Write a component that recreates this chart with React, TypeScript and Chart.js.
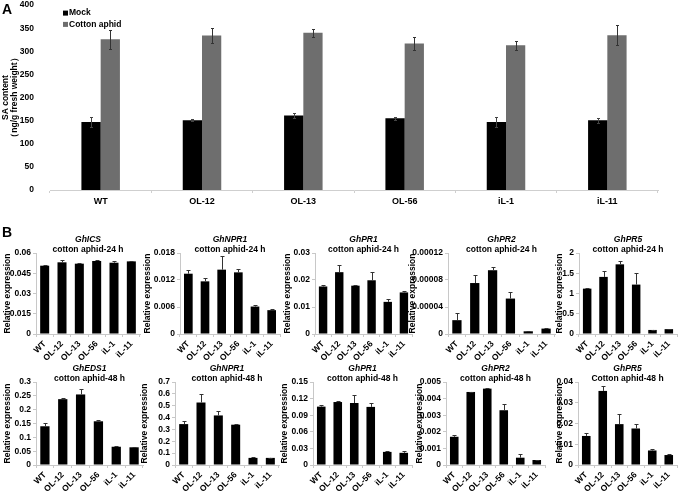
import React, { useEffect, useRef } from "react";
import { Chart, registerables } from "chart.js";

Chart.register(...registerables);

const FONT = "'Liberation Sans', Arial, Helvetica, sans-serif";
Chart.defaults.font.family = FONT;
Chart.defaults.color = "#000";

// ---------- Panel A data ----------
const lines = ["WT", "OL-12", "OL-13", "OL-56", "iL-1", "iL-11"];
const saMock = [147, 151, 161, 155, 147, 151];
const saMockErr = [10, 2, 6, 4, 10, 5];
const saAphid = [326, 334, 340, 317, 313, 335];
const saAphidErr = [20, 16, 9, 14, 10, 22];
const saTicks = [0, 50, 100, 150, 200, 250, 300, 350, 400];
const saTitle = ["SA content", "（ng/g fresh weight）"];
const seriesNames = ["Mock", "Cotton aphid"];

// ---------- Panel B data ----------
const icsVals = [0.0506, 0.0531, 0.0521, 0.0541, 0.0528, 0.0538];
const icsErr = [0.0003, 0.002, 0.0007, 0.001, 0.0015, 0.0005];
const icsTicks = [0, 0.015, 0.03, 0.045, 0.06];

const npr1h24Vals = [0.0134, 0.0117, 0.0143, 0.0137, 0.0061, 0.0053];
const npr1h24Err = [0.0008, 0.0007, 0.003, 0.0007, 0.0003, 0.0002];
const npr1h24Ticks = [0, 0.006, 0.012, 0.018];

const pr1h24Vals = [0.0176, 0.0229, 0.0179, 0.0199, 0.0119, 0.0154];
const pr1h24Err = [0.0004, 0.0025, 0.0004, 0.003, 0.001, 0.0004];
const pr1h24Ticks = [0, 0.01, 0.02, 0.03];

const pr2h24Vals = [0.0000205, 0.0000755, 0.0000945, 0.0000525, 0.000004, 0.000008];
const pr2h24Err = [0.00001, 0.000012, 0.0000045, 0.00001, 0.0000005, 0.0000007];
const pr2h24Ticks = [0, 0.00004, 0.00008, 0.00012];

const pr5h24Vals = [1.12, 1.41, 1.72, 1.22, 0.1, 0.12];
const pr5h24Err = [0.02, 0.14, 0.08, 0.28, 0.01, 0.005];
const pr5h24Ticks = [0, 0.5, 1, 1.5, 2];

const eds1h48Vals = [0.14, 0.238, 0.255, 0.158, 0.066, 0.064];
const eds1h48Err = [0.012, 0.004, 0.02, 0.004, 0.002, 0.002];
const eds1h48Ticks = [0, 0.05, 0.1, 0.15, 0.2, 0.25, 0.3];

const npr1h48Vals = [0.345, 0.527, 0.418, 0.34, 0.06, 0.06];
const npr1h48Err = [0.022, 0.075, 0.035, 0.003, 0.005, 0.003];
const npr1h48Ticks = [0, 0.1, 0.2, 0.3, 0.4, 0.5, 0.6, 0.7];

const pr1h48Vals = [0.1055, 0.1138, 0.112, 0.105, 0.0237, 0.022];
const pr1h48Err = [0.0025, 0.0018, 0.0137, 0.0065, 0.0013, 0.003];
const pr1h48Ticks = [0, 0.03, 0.06, 0.09, 0.12, 0.15];

const pr2h48Vals = [0.0017, 0.0044, 0.0046, 0.0033, 0.00044, 0.0003];
const pr2h48Err = [0.00012, 0.00002, 0.00002, 0.00036, 0.0002, 0.00002];
const pr2h48Ticks = [0, 0.001, 0.002, 0.003, 0.004, 0.005];

const pr5h48Vals = [0.014, 0.0357, 0.0197, 0.0176, 0.007, 0.0048];
const pr5h48Err = [0.0012, 0.0022, 0.0048, 0.002, 0.0007, 0.0004];
const pr5h48Ticks = [0, 0.01, 0.02, 0.03, 0.04];

const genes = ["GhICS", "GhNPR1", "GhPR1", "GhPR2", "GhPR5", "GhEDS1", "GhNPR1", "GhPR1", "GhPR2", "GhPR5"];
const subtitles = [
  "cotton aphid-24 h", "cotton aphid-24 h", "cotton aphid-24 h", "cotton aphid-24 h", "cotton aphid-24 h",
  "cotton aphid-48 h", "cotton aphid-48 h", "cotton aphid-48 h", "cotton aphid-48 h", "Cotton aphid-48 h",
];
const yTitleB = "Relative expression";

const valuesB = [icsVals, npr1h24Vals, pr1h24Vals, pr2h24Vals, pr5h24Vals, eds1h48Vals, npr1h48Vals, pr1h48Vals, pr2h48Vals, pr5h48Vals];
const errorsB = [icsErr, npr1h24Err, pr1h24Err, pr2h24Err, pr5h24Err, eds1h48Err, npr1h48Err, pr1h48Err, pr2h48Err, pr5h48Err];
const ticksB = [icsTicks, npr1h24Ticks, pr1h24Ticks, pr2h24Ticks, pr5h24Ticks, eds1h48Ticks, npr1h48Ticks, pr1h48Ticks, pr2h48Ticks, pr5h48Ticks];

// ---------- Layout (positions only) ----------
const ROW1 = { top: 234, padTop: 19, plotH: 81, xH: 30 };
const ROW2 = { top: 364, padTop: 18, plotH: 83, xH: 28 };
const layoutB = [
  { left: 3, plotLeft: 36, plotRight: 140, row: ROW1 },
  { left: 143, plotLeft: 180, plotRight: 280, row: ROW1 },
  { left: 283, plotLeft: 315, plotRight: 412, row: ROW1 },
  { left: 408, plotLeft: 448, plotRight: 555, row: ROW1 },
  { left: 555, plotLeft: 579, plotRight: 677, row: ROW1 },
  { left: 3, plotLeft: 36, plotRight: 143, row: ROW2 },
  { left: 140, plotLeft: 175, plotRight: 279, row: ROW2 },
  { left: 280, plotLeft: 313, plotRight: 412, row: ROW2 },
  { left: 415, plotLeft: 446, plotRight: 545, row: ROW2 },
  { left: 555, plotLeft: 578, plotRight: 677, row: ROW2 },
];

// ---------- Plugins ----------
const errorBarPlugin = {
  id: "errorBars",
  afterDatasetsDraw(chart: any) {
    const { ctx } = chart;
    const y = chart.scales.y;
    chart.data.datasets.forEach((ds: any, di: number) => {
      const errs = ds.errors;
      if (!errs) return;
      const meta = chart.getDatasetMeta(di);
      ctx.save();
      ctx.strokeStyle = ds.errorColor || "#333";
      ctx.lineWidth = 1;
      meta.data.forEach((bar: any, i: number) => {
        const v = ds.data[i];
        const e = errs[i];
        const x = Math.round(bar.x) + 0.5;
        const top = Math.round(y.getPixelForValue(v + e)) + 0.5;
        const bot = ds.errorBoth ? Math.round(y.getPixelForValue(v - e)) + 0.5 : y.getPixelForValue(v);
        const cw = ds.capWidth || 2;
        ctx.beginPath();
        ctx.moveTo(x, bot);
        ctx.lineTo(x, top);
        ctx.moveTo(x - cw, top);
        ctx.lineTo(x + cw, top);
        if (ds.errorBoth) {
          ctx.moveTo(x - cw, bot);
          ctx.lineTo(x + cw, bot);
        }
        ctx.stroke();
      });
      ctx.restore();
    });
  },
};

const miniTitlePlugin = {
  id: "miniTitle",
  afterDraw(chart: any, _args: any, opts: any) {
    if (!opts || !opts.lines) return;
    const { ctx, chartArea } = chart;
    const cx = (chartArea.left + chartArea.right) / 2;
    ctx.save();
    ctx.fillStyle = "#000";
    ctx.textAlign = "center";
    ctx.textBaseline = "middle";
    ctx.font = `italic bold 8.5px ${FONT}`;
    ctx.fillText(opts.lines[0], cx, chartArea.top - 13);
    ctx.font = `bold 8.5px ${FONT}`;
    ctx.fillText(opts.lines[1], cx, chartArea.top - 3);
    ctx.restore();
  },
};

const legendPlugin = {
  id: "boxLegend",
  afterDraw(chart: any, _args: any, opts: any) {
    if (!opts || !opts.show) return;
    const { ctx, chartArea } = chart;
    ctx.save();
    ctx.font = `bold 8.5px ${FONT}`;
    ctx.textBaseline = "middle";
    ctx.textAlign = "left";
    chart.data.datasets.forEach((ds: any, i: number) => {
      const y = chartArea.top + 8 + i * 11.3;
      const x = chartArea.left + 13;
      ctx.fillStyle = ds.backgroundColor;
      ctx.fillRect(x, y - 2.5, 5, 5);
      ctx.fillStyle = "#000";
      ctx.fillText(ds.label, x + 6, y);
    });
    ctx.restore();
  },
};

const fixedTicks = (arr: number[]) => (s: any) => {
  s.ticks = arr.map((v) => ({ value: v }));
};

// ---------- Components ----------
const A_TOP = -8;
const A_H = 218;

function PanelA() {
  const ref = useRef<HTMLCanvasElement>(null);
  useEffect(() => {
    const chart = new Chart(ref.current as HTMLCanvasElement, {
      type: "bar",
      data: {
        labels: lines,
        datasets: [
          { label: seriesNames[0], data: saMock, backgroundColor: "#000000", errors: saMockErr, errorBoth: true, capWidth: 1.5, errorColor: "#444" } as any,
          { label: seriesNames[1], data: saAphid, backgroundColor: "#6e6e6e", errors: saAphidErr, errorBoth: true, capWidth: 1.5, errorColor: "#333" } as any,
        ],
      },
      options: {
        animation: false,
        responsive: false,
        layout: { padding: { top: 5, right: 29, left: 0, bottom: 0 } },
        datasets: { bar: { categoryPercentage: 0.38, barPercentage: 1, borderWidth: 0 } },
        plugins: {
          legend: { display: false },
          tooltip: { enabled: false },
          boxLegend: { show: true },
        } as any,
        scales: {
          x: {
            grid: { drawOnChartArea: false, drawTicks: true, tickLength: 3, color: "#cfcfcf" },
            border: { color: "#cfcfcf" },
            ticks: { font: { size: 9, weight: "bold" }, color: "#000", padding: 3 },
            afterFit: (s: any) => { s.height = 20; },
          },
          y: {
            min: 0,
            max: 400,
            afterBuildTicks: fixedTicks(saTicks),
            grid: { display: false },
            border: { display: false },
            ticks: { font: { size: 8.5, weight: "bold" }, color: "#000", padding: 8, autoSkip: false, autoSkipPadding: 0, callback: (v: any) => String(v) },
            title: { display: true, text: saTitle, font: { size: 8.5, weight: "bold", lineHeight: 1.1 }, color: "#000", padding: { top: 1, bottom: 0 } },
            afterFit: (s: any) => { s.width = 50; },
          },
        } as any,
      },
      plugins: [errorBarPlugin, legendPlugin],
    } as any);
    return () => chart.destroy();
  }, []);
  return (
    <canvas ref={ref} width={687} height={A_H} style={{ position: "absolute", left: 0, top: A_TOP, width: 687, height: A_H }} />
  );
}

function MiniChart({ idx }: { idx: number }) {
  const ref = useRef<HTMLCanvasElement>(null);
  const L = layoutB[idx];
  const width = L.plotRight + 4 - L.left;
  const height = L.row.padTop + L.row.plotH + L.row.xH;
  useEffect(() => {
    const tks = ticksB[idx];
    const chart = new Chart(ref.current as HTMLCanvasElement, {
      type: "bar",
      data: {
        labels: lines,
        datasets: [
          { label: genes[idx], data: valuesB[idx], backgroundColor: "#000000", errors: errorsB[idx], errorBoth: false, capWidth: 2, errorColor: "#333" } as any,
        ],
      },
      options: {
        animation: false,
        responsive: false,
        layout: { padding: { top: L.row.padTop, right: 4, left: 0, bottom: 0 } },
        datasets: { bar: { categoryPercentage: 1, barPercentage: 0.52, borderWidth: 0 } },
        plugins: {
          legend: { display: false },
          tooltip: { enabled: false },
          miniTitle: { lines: [genes[idx], subtitles[idx]] },
        } as any,
        scales: {
          x: {
            grid: { drawOnChartArea: false, drawTicks: true, tickLength: 3, color: "#c8c8c8" },
            border: { color: "#c8c8c8" },
            ticks: { font: { size: 8.5, weight: "bold" }, color: "#000", padding: 2, minRotation: 45, maxRotation: 45, autoSkip: false },
            afterFit: (s: any) => { s.height = L.row.xH; },
          },
          y: {
            min: 0,
            max: tks[tks.length - 1],
            afterBuildTicks: fixedTicks(tks),
            grid: { drawOnChartArea: false, drawTicks: true, tickLength: 3, color: "#c8c8c8" },
            border: { display: true, color: "#c8c8c8" },
            ticks: {
              font: { size: 8.5, weight: "bold", lineHeight: 1 },
              color: "#000",
              padding: 2,
              autoSkip: false,
              autoSkipPadding: 0,
              callback: (v: any) => String(v),
            },
            title: { display: true, text: yTitleB, font: { size: 8.5, weight: "bold", lineHeight: 1.1 }, color: "#000", padding: 0 },
            afterFit: (s: any) => { s.width = L.plotLeft - L.left; },
          },
        } as any,
      },
      plugins: [errorBarPlugin, miniTitlePlugin],
    } as any);
    return () => chart.destroy();
  }, [idx]);
  return (
    <canvas
      ref={ref}
      width={width}
      height={height}
      style={{ position: "absolute", left: L.left, top: L.row.top, width, height }}
    />
  );
}

export default function App() {
  const labelStyle: React.CSSProperties = {
    position: "absolute",
    fontFamily: FONT,
    fontWeight: "bold",
    fontSize: 14,
    lineHeight: "14px",
    color: "#000",
  };
  return (
    <div style={{ position: "absolute", left: 0, top: 0, width: 687, height: 493, background: "#fff", overflow: "hidden" }}>
      <PanelA />
      {layoutB.map((_, i) => (
        <MiniChart key={i} idx={i} />
      ))}
      <div style={{ ...labelStyle, left: 2, top: 2 }}>A</div>
      <div style={{ ...labelStyle, left: 2, top: 225 }}>B</div>
    </div>
  );
}
